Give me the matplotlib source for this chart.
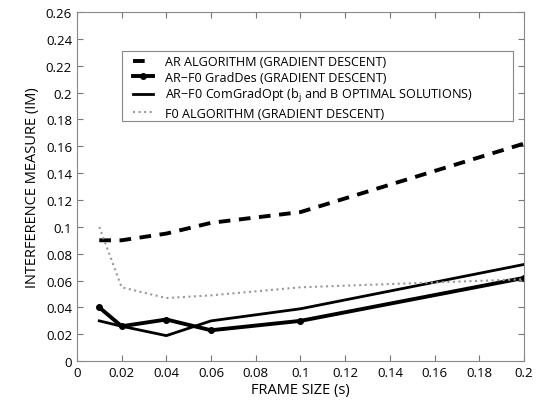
#!/usr/bin/env python3

import numpy as np
import matplotlib
matplotlib.use('Agg')
import matplotlib.pyplot as plt
from matplotlib.patches import Rectangle

frame = [0.01, 0.02, 0.04, 0.06, 0.1, 0.2]
ar = [0.090, 0.090, 0.095, 0.103, 0.111, 0.162]
arf0_grad = [0.040, 0.026, 0.031, 0.023, 0.030, 0.062]
arf0_opt = [0.030, 0.026, 0.019, 0.030, 0.039, 0.072]
f0 = [0.100, 0.055, 0.047, 0.049, 0.055, 0.061]

labels = ['AR ALGORITHM (GRADIENT DESCENT)',
          'AR\u2212F0 GradDes (GRADIENT DESCENT)',
          r'AR$-$F0 ComGradOpt (b$_{\mathregular{j}}$ and B OPTIMAL SOLUTIONS)',
          'F0 ALGORITHM (GRADIENT DESCENT)']

plt.rcParams['font.family'] = ['Open Sans', 'DejaVu Sans']
plt.rcParams['mathtext.fontset'] = 'custom'
plt.rcParams['mathtext.rm'] = 'Open Sans'

fig = plt.figure(figsize=(5.38, 4.06), dpi=100)
ax = fig.add_axes([0.143, 0.108, 0.831, 0.860])

ax.plot(frame, ar, 'k--', lw=2.8, dashes=(3, 2.2), label=labels[0])
ax.plot(frame, arf0_grad, 'k-', lw=2.8, marker='o', ms=4, label=labels[1])
ax.plot(frame, arf0_opt, 'k-', lw=2.0, label=labels[2])
ax.plot(frame, f0, ls=':', color='#999999', lw=1.5, label=labels[3])

ax.set_xlim(0, 0.2)
ax.set_ylim(0, 0.26)
ax.set_xticks(np.arange(0, 0.201, 0.02))
ax.set_xticklabels(['0', '0.02', '0.04', '0.06', '0.08', '0.1', '0.12', '0.14', '0.16', '0.18', '0.2'])
ax.set_yticks(np.arange(0, 0.261, 0.02))
ax.set_yticklabels(['0', '0.02', '0.04', '0.06', '0.08', '0.1', '0.12', '0.14', '0.16', '0.18', '0.2', '0.22', '0.24', '0.26'])
ax.tick_params(direction='in', top=True, right=True, labelsize=9.5, length=4, color='#777777')
for s in ax.spines.values():
    s.set_color('#888888')
    s.set_linewidth(0.8)

ax.set_xlabel('FRAME SIZE (s)', fontsize=10.5, labelpad=2)
ax.set_ylabel('INTERFERENCE MEASURE (IM)', fontsize=10.5)

# matlab style legend box is wider than its text, so draw it by hand
box = Rectangle((0.1007, 0.688), 0.875, 0.2006, transform=ax.transAxes,
                facecolor='white', edgecolor='#888888', lw=0.8, zorder=4)
ax.add_patch(box)
leg = ax.legend(loc='upper left', bbox_to_anchor=(0.1, 0.909), fontsize=9.1,
                frameon=False, handlelength=1.6, handletextpad=0.95,
                borderpad=0.4, labelspacing=0.2)
leg.set_zorder(5)

plt.savefig('out.png', dpi=100)
